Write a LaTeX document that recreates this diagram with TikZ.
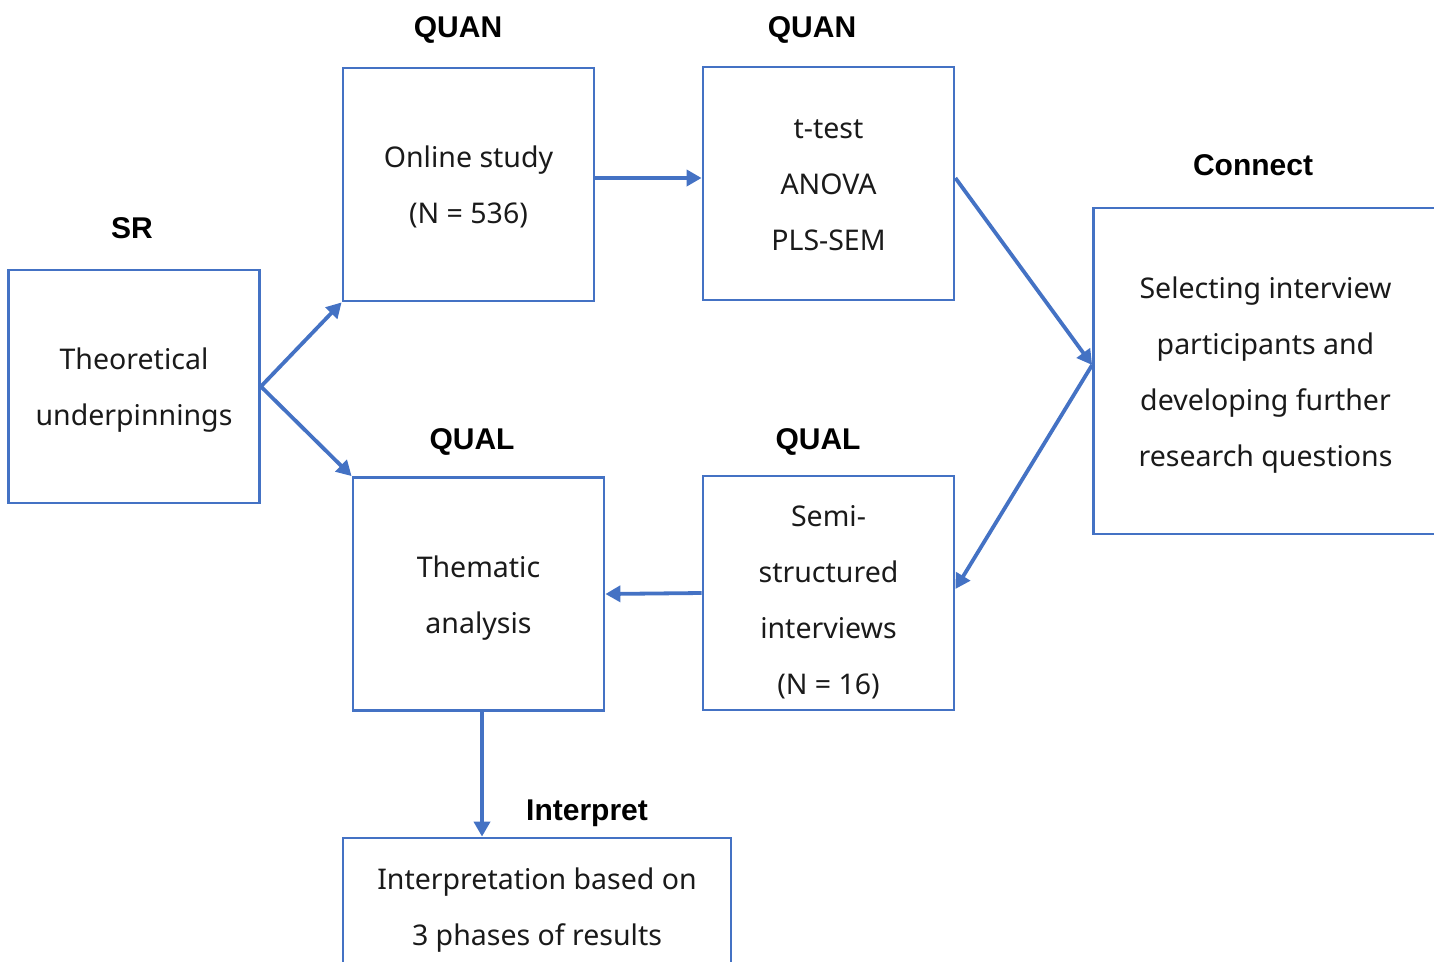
\documentclass[tikz,border=0pt]{standalone}
\usepackage{fontspec}
\setmainfont{Noto Sans}
\newfontfamily\phasefont{Liberation Sans}
\usetikzlibrary{arrows.meta}
\definecolor{flowblue}{HTML}{4472C4}
\definecolor{inktext}{HTML}{1A1A1A}
% centred lines on a 56pt grid
\newcommand\stagelines[1]{\begin{tabular}{@{}c@{}}#1\end{tabular}}
\tikzset{
  stagebox/.style={draw=flowblue, line width=2.8pt, minimum width=251pt, minimum height=233pt,
    inner sep=0pt, text=inktext, font=\fontsize{28.5}{56}\selectfont},
  stagetext/.style={inner sep=0pt, text=inktext, font=\fontsize{28.5}{56}\selectfont},
  phase/.style={font=\phasefont\bfseries\fontsize{30}{32}\selectfont, text=black, inner sep=0pt},
  flow/.style={draw=flowblue, line width=3.8pt, -{Triangle[length=15pt, width=16pt]}},
}
\begin{document}
\begin{tikzpicture}[x=1pt, y=-1pt]
  \useasboundingbox (0,0) rectangle (1434,961);
  \begin{scope}
    \clip (0,0) rectangle (1434,961);
    % stage boxes
    \node[stagebox] (sr) at (134,386.5) {\stagelines{Theoretical\\underpinnings}};
    \node[stagebox] (online) at (468.5,184.5) {\stagelines{Online study\\(N = 536)}};
    \node[stagebox] (ttest) at (828.5,183.5) {\stagelines{t-test\\ANOVA\\PLS-SEM}};
    \node[stagebox, minimum width=344pt, minimum height=326pt] (connect) at (1265.5,371)
      {\stagelines{Selecting interview\\participants and\\developing further\\research questions}};
    \node[stagebox] (thematic) at (478.5,594) {\stagelines{Thematic\\analysis}};
    \node[stagebox, minimum height=234pt] (semi) at (828.5,593) {};
    \node[stagetext] (semitext) at (828.5,599.5)
      {\stagelines{Semi-\\structured\\interviews\\(N = 16)}};
    \node[stagebox, minimum width=388pt, minimum height=136pt] (interp) at (537,906)
      {\stagelines{Interpretation based on\\3 phases of results}};
  \end{scope}
  % phase labels
  \node[phase] (lsr) at (132,228.5) {SR};
  \node[phase] (lquan1) at (458,30) {QUAN};
  \node[phase] (lquan2) at (812,30) {QUAN};
  \node[phase] (lconn) at (1253,165) {Connect};
  \node[phase] (lqual1) at (472,441.5) {QUAL};
  \node[phase] (lqual2) at (818,441.5) {QUAL};
  \node[phase] (linterp) at (587,813) {Interpret};
  % connectors
  \draw[flow] (sr.east) -- (online.south west);
  \draw[flow] (sr.east) -- (thematic.north west);
  \draw[flow] ([yshift=6.5pt]online.east) -- ([yshift=5.5pt]ttest.west);
  \draw[flow] ([yshift=5.5pt]ttest.east) -- ([yshift=6pt]connect.west);
  \draw[flow] ([yshift=6pt]connect.west) -- ([yshift=4pt]semi.east);
  \draw[flow] (semi.west) -- (thematic.east);
  \draw[flow] ([xshift=3.5pt]thematic.south) -- ([xshift=-55pt]interp.north);
\end{tikzpicture}
\end{document}
